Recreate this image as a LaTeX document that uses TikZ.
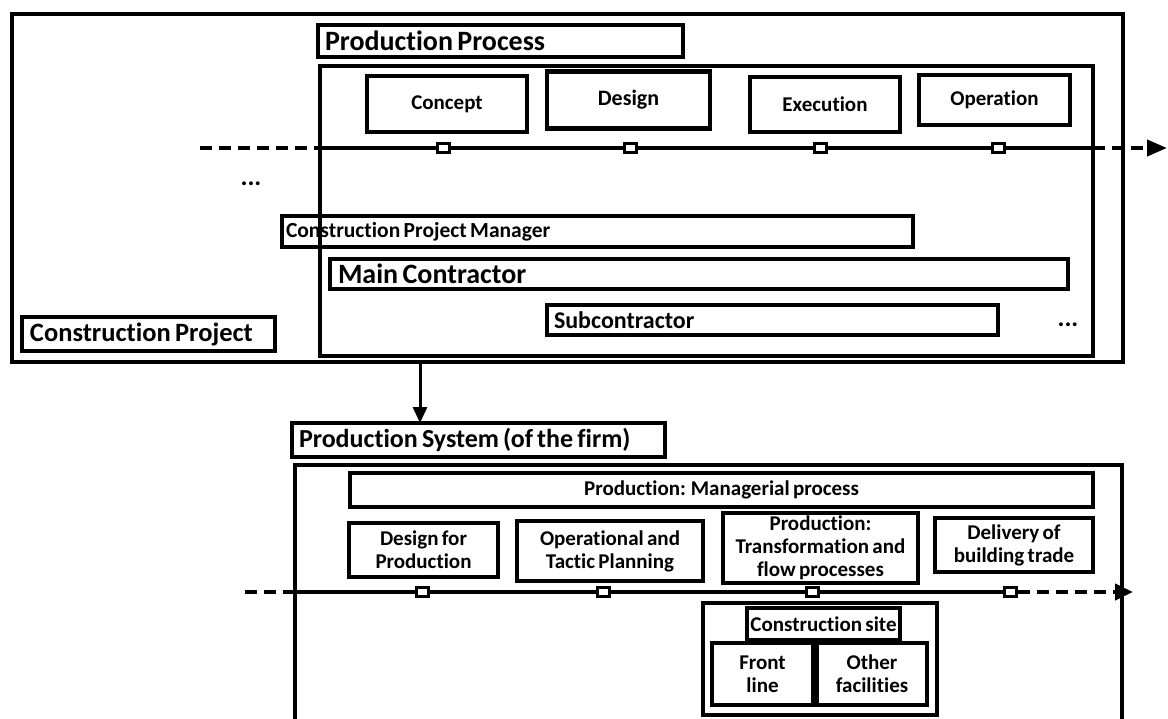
\documentclass[tikz,border=0pt]{standalone}
\usepackage{fontspec}
\setmainfont{Carlito}[Ligatures=NoCommon, WordSpace=0.7]
\usetikzlibrary{arrows.meta}
\tikzset{
  blk/.style={draw, line width=4.5pt, inner sep=0pt, outer sep=0pt, align=center, font=\bfseries\fontsize{21}{23}\selectfont},
  big/.style={font=\bfseries\fontsize{28}{30}\selectfont},
  lft/.style={align=flush left},
  tick/.style={draw, fill=white, line width=3pt, minimum width=12pt, minimum height=9pt, inner sep=0pt},
  flow/.style={line width=4pt},
  flowdash/.style={line width=4pt, dash pattern=on 12pt off 7pt},
}
\begin{document}
\begin{tikzpicture}[x=1pt,y=-1pt]
\useasboundingbox (0,0) rectangle (1168,718);
% construction project
\node[blk, minimum width=1111, minimum height=348] (cproj) at (567.5,188) {};
\node[blk, minimum width=773, minimum height=290] (proc) at (706.5,211) {};
\node[blk, big, minimum width=365, minimum height=32, text width=351, lft] (pp) at (500.5,41) {Production Process};
\node[blk, font=\bfseries\fontsize{26.5}{28}\selectfont, minimum width=253, minimum height=34, text width=237, lft] (cpl) at (148.5,334) {Construction Project};
%
\node[blk, minimum width=160, minimum height=56] (concept) at (447,104) {Concept};
\node[blk, font=\bfseries\fontsize{22}{24}\selectfont, minimum width=163, minimum height=57] (design) at (628.5,100) {Design};
\node[blk, minimum width=150, minimum height=55] (exec) at (825,104.5) {Execution};
\node[blk, minimum width=151, minimum height=50] (oper) at (994.5,100) {Operation};
%
\coordinate (l1a) at (200,148);
\coordinate (l1b) at (1167,148);
\draw[flowdash] (l1a) -- (proc.west |- l1a);
\draw[flow] (proc.west |- l1a) -- (proc.east |- l1a);
\draw[flowdash, -{Triangle[length=20pt,width=16pt]}] (proc.east |- l1a) -- (l1b);
\foreach \px/\nm in {443/t1,630/t2,820/t3,998/t4}
  \node[tick] (\nm) at (\px,148) {};
%
\node[font=\bfseries\fontsize{26}{28}\selectfont] (dots1) at (251,184) {...};
\node[blk, font=\bfseries\fontsize{21.5}{23}\selectfont, minimum width=631, minimum height=31, text width=623, lft] (cpm) at (597.5,231.5) {Construction Project Manager};
\node[blk, big, minimum width=738, minimum height=30, text width=722, lft] (mc) at (699,274) {Main Contractor};
\node[blk, font=\bfseries\fontsize{24}{26}\selectfont, minimum width=451, minimum height=30, text width=437, lft] (sub) at (772.5,320) {Subcontractor};
\node[font=\bfseries\fontsize{26}{28}\selectfont] (dots2) at (1068,325) {...};
%
\coordinate (ax) at (420,0);
\node[blk, font=\bfseries\fontsize{26}{28}\selectfont, minimum width=373, minimum height=34, text width=359, lft] (ps) at (478.5,440) {Production System (of the firm)};
\draw[line width=3pt, -{Triangle[length=16pt,width=14pt]}] (cproj.south -| ax) -- (ps.north -| ax);
% production system of the firm
\coordinate (fa) at (295,722);
\coordinate (fb) at (1122,722);
\draw[line width=4.5pt] (fa) -- (295,465) -- (1122,465) -- (fb);
\node[blk, minimum width=743, minimum height=34] (mgr) at (721.5,490) {Production: Managerial process};
\node[blk, minimum width=149, minimum height=54] (dfp) at (423.5,550) {Design for\\Production};
\node[blk, minimum width=186, minimum height=60] (otp) at (610,551) {Operational and\\Tactic Planning};
\node[blk, minimum width=195, minimum height=70] (ptf) at (820.5,548) {Production:\\Transformation and\\flow processes};
\node[blk, minimum width=158, minimum height=54] (dbt) at (1014,545) {Delivery of\\building trade};
%
\coordinate (l2a) at (245,592);
\coordinate (l2b) at (1018,592);
\coordinate (l2c) at (1133,592);
\draw[flowdash] (l2a) -- (295,592);
\draw[flow] (295,592) -- (l2b);
\draw[flowdash, -{Triangle[length=18pt,width=16pt]}] (l2b) -- (l2c);
\foreach \px/\nm in {422/u1,603/u2,812/u3,1010/u4}
  \node[tick] (\nm) at (\px,592) {};
%
\node[blk, minimum width=234, minimum height=112] (site) at (820,659) {};
\node[blk, minimum width=153, minimum height=32] (sitel) at (823.5,624) {Construction site};
\node[blk, minimum width=101, minimum height=62] (front) at (762.5,674) {Front\\line};
\node[blk, minimum width=110, minimum height=62] (other) at (872,674) {Other\\facilities};
\end{tikzpicture}
\end{document}
